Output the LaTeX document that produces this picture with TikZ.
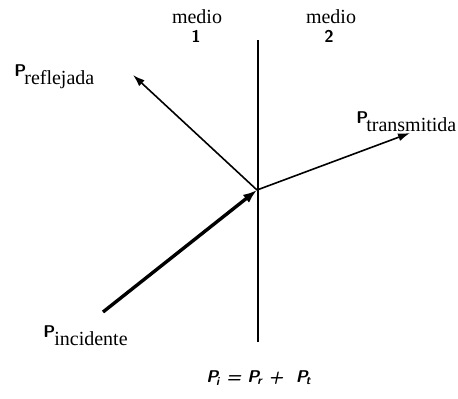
\documentclass[tikz,border=0pt]{standalone}
\usepackage{fontspec}
\setmainfont{Liberation Serif}
\usetikzlibrary{arrows.meta}
\newcommand{\vecP}{\raisebox{4pt}{\fontsize{8.5}{9}\selectfont\bfseries\sffamily P}}
\begin{document}
\begin{tikzpicture}[x=0.5pt,y=-0.5pt,
  vec/.style={-{Latex[length=6pt,width=4pt]}, line width=0.8pt},
  lbl/.style={font=\fontsize{10}{12}\selectfont, inner sep=0pt},
  numlbl/.style={lbl, font=\fontsize{8.5}{10}\selectfont\bfseries\sffamily}]
\useasboundingbox (0,0) rectangle (458,398);
\coordinate (O) at (257,190);
\coordinate (top) at (258,40);
\coordinate (bot) at (258,342);
\coordinate (inc) at (103,312);
\coordinate (ref) at (133,75);
\coordinate (tra) at (410,133);
\draw[line width=0.9pt] (top) -- (bot);
\draw[-{Latex[length=7pt,width=5pt]}, line width=1.7pt] (inc) -- (O);
\draw[vec] (O) -- (ref);
\draw[vec] (O) -- (tra);
\node[lbl] (m1) at (197,17) {medio};
\node[numlbl] (n1) at (196,36) {1};
\node[lbl] (m2) at (331,17) {medio};
\node[numlbl] (n2) at (329,36) {2};
\node[lbl,anchor=base west] (lr) at (14,84) {\vecP\hspace{-1pt}reflejada};
\node[lbl,anchor=base west] (lt) at (356,131) {\vecP\hspace{-1pt}transmitida};
\node[lbl,anchor=base west] (li) at (43,345) {\vecP\hspace{-0.5pt}incidente};
\node[lbl,font=\fontsize{8.5}{10}\selectfont\bfseries\sffamily\itshape] (eq) at (259,378) {P\textsubscript{\kern-1pt i} = P\textsubscript{\kern-1pt r} + \ P\textsubscript{\kern-1pt t}};
\end{tikzpicture}
\end{document}
